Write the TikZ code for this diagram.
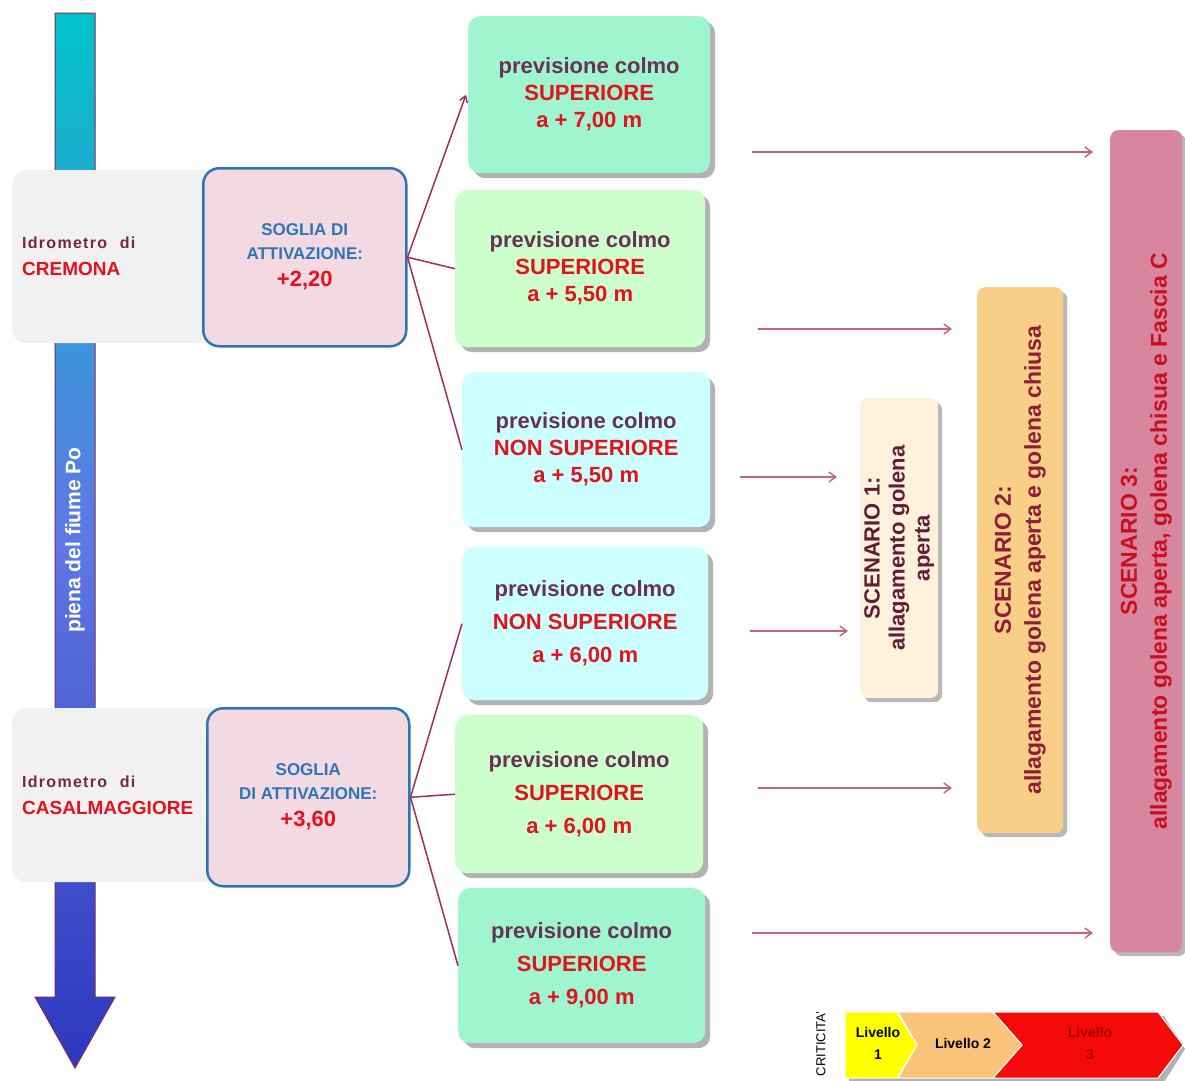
\documentclass[tikz,border=0pt]{standalone}
\usepackage{fontspec}
\setmainfont{Liberation Sans}
\newfontfamily\spacedfont[LetterSpace=8]{Liberation Sans}
\usetikzlibrary{shadows,arrows.meta,calc}
\definecolor{mint}{RGB}{158,245,208}
\definecolor{lgreen}{RGB}{204,255,204}
\definecolor{lcyan}{RGB}{204,255,255}
\definecolor{pinkbox}{RGB}{242,217,226}
\definecolor{bluebd}{RGB}{46,117,182}
\definecolor{greybox}{RGB}{241,241,241}
\definecolor{txtpurple}{RGB}{105,50,85}
\definecolor{txtred}{RGB}{228,18,28}
\definecolor{idrocol}{RGB}{115,40,75}
\definecolor{linecol}{RGB}{160,45,90}
\definecolor{arrowcol}{RGB}{200,95,135}
\definecolor{scA}{RGB}{253,241,220}
\definecolor{scB}{RGB}{249,207,136}
\definecolor{scC}{RGB}{216,134,159}
\definecolor{scAtxt}{RGB}{95,30,50}
\definecolor{scBtxt}{RGB}{140,30,55}
\definecolor{scCtxt}{RGB}{200,15,30}
\definecolor{riverTop}{RGB}{0,195,200}
\definecolor{riverMid}{RGB}{95,120,228}
\definecolor{riverBot}{RGB}{45,55,190}
\definecolor{barEdge}{RGB}{120,45,95}
\definecolor{lvA}{RGB}{255,255,0}
\definecolor{lvB}{RGB}{249,196,122}
\definecolor{lvC}{RGB}{245,10,10}
\definecolor{lvCtxt}{RGB}{165,0,0}
\tikzset{
  shbox/.style={rounded corners=12pt, inner sep=0pt, align=center, anchor=north west,
    drop shadow={shadow xshift=5pt, shadow yshift=-5pt, opacity=0.55, fill=black!55}},
  prevbox/.style={shbox, text=txtred, font=\fontsize{22}{27}\selectfont\bfseries},
  prevboxw/.style={shbox, text=txtred, font=\fontsize{22}{33}\selectfont\bfseries},
  greyb/.style={rounded corners=14pt, fill=greybox, anchor=north west, inner ysep=0pt, inner xsep=10pt, text width=200pt, align=left, font=\fontsize{19}{27}\selectfont\bfseries},
  soglia/.style={rounded corners=16pt, fill=pinkbox, draw=bluebd, line width=2.5pt, anchor=north west, inner sep=0pt, align=center, font=\fontsize{17}{24}\selectfont\bfseries},
  scenbox/.style={rounded corners=8pt, anchor=north west, inner sep=0pt,
    drop shadow={shadow xshift=4pt, shadow yshift=-4pt, opacity=0.5, fill=black!55}},
  scentxt/.style={rotate=90, align=center, font=\fontsize{23}{30}\selectfont\bfseries},
  conn/.style={draw=linecol, line width=1.5pt},
  rarrow/.style={draw=arrowcol, line width=1.4pt, -{Straight Barb[length=7pt,width=10pt]}},
  lvtxt/.style={align=center, font=\fontsize{14}{22}\selectfont\bfseries}
}
\begin{document}
\begin{tikzpicture}[x=1pt,y=-1pt]
\fill[white] (0,0) rectangle (1185,1080);
\useasboundingbox (0,0) rectangle (1185,1080);

% river arrow
\shade[top color=riverTop, bottom color=riverBot, middle color=riverMid, draw=barEdge, line width=1pt]
  (55,13) -- (95,13) -- (95,997) -- (115,997) -- (75,1068) -- (35,997) -- (55,997) -- cycle;
\node[rotate=90, text=white, font=\fontsize{21}{25}\selectfont\bfseries] (river) at (75,540) {piena del fiume Po};

% gauges
\node[greyb, minimum width=220pt, minimum height=173pt] (g1) at (12,170)
  {{\color{idrocol}\spacedfont\fontsize{16}{27}\selectfont\bfseries Idrometro\ \ di}\\{\color{txtred}CREMONA}};
\node[greyb, minimum width=220pt, minimum height=174pt] (g2) at (12,708)
  {{\color{idrocol}\spacedfont\fontsize{16}{27}\selectfont\bfseries Idrometro\ \ di}\\{\color{txtred}CASALMAGGIORE}};

\node[soglia, minimum width=203pt, minimum height=178pt] (p1) at (202,167)
  {{\color{bluebd}SOGLIA DI}\\{\color{bluebd}ATTIVAZIONE:}\\[3pt]{\color{txtred}\fontsize{22}{24}\selectfont +2,20}};
\node[soglia, minimum width=202pt, minimum height=178pt] (p2) at (206,707)
  {{\color{bluebd}SOGLIA}\\{\color{bluebd}DI ATTIVAZIONE:}\\[3pt]{\color{txtred}\fontsize{22}{24}\selectfont +3,60}};

% forecast boxes
\node[prevbox, fill=mint, minimum width=242pt, minimum height=157pt] (b1) at (468,16)
  {\textcolor{txtpurple}{previsione colmo}\\SUPERIORE\\a + 7,00 m};
\node[prevbox, fill=lgreen, minimum width=250pt, minimum height=157pt] (b2) at (455,190)
  {\textcolor{txtpurple}{previsione colmo}\\SUPERIORE\\a + 5,50 m};
\node[prevbox, fill=lcyan, minimum width=248pt, minimum height=155pt] (b3) at (462,372)
  {\textcolor{txtpurple}{previsione colmo}\\NON SUPERIORE\\a + 5,50 m};
\node[prevboxw, fill=lcyan, minimum width=246pt, minimum height=153pt] (b4) at (462,547)
  {\textcolor{txtpurple}{previsione colmo}\\NON SUPERIORE\\a + 6,00 m};
\node[prevboxw, fill=lgreen, minimum width=248pt, minimum height=158pt] (b5) at (455,715)
  {\textcolor{txtpurple}{previsione colmo}\\SUPERIORE\\a + 6,00 m};
\node[prevboxw, fill=mint, minimum width=247pt, minimum height=155pt] (b6) at (458,888)
  {\textcolor{txtpurple}{previsione colmo}\\SUPERIORE\\a + 9,00 m};

% connectors
\draw[conn, -{Straight Barb[length=6pt,width=8pt]}] (p1.east) -- ($(b1.west)+(-2,0)$);
\draw[conn] (p1.east) -- (b2.west);
\draw[conn] (p1.east) -- (b3.west);
\draw[conn] (p2.east) -- (b4.west);
\draw[conn] (p2.east) -- (b5.west);
\draw[conn] (p2.east) -- (b6.west);

% scenarios
\node[scenbox, fill=scA, minimum width=78pt, minimum height=300pt] (s1) at (860,398) {};
\node[scenbox, fill=scB, minimum width=86pt, minimum height=546pt] (s2) at (977,287) {};
\node[scenbox, fill=scC, minimum width=72pt, minimum height=822pt] (s3) at (1110,130) {};
\node[scentxt, text=scAtxt, font=\fontsize{22}{25}\selectfont\bfseries] (s1t) at (s1.center) {SCENARIO 1:\\allagamento golena\\aperta};
\node[scentxt, text=scBtxt] (s2t) at (s2.center) {SCENARIO 2:\\allagamento golena aperta e golena chiusa};
\node[scentxt, text=scCtxt] (s3t) at (s3.center) {SCENARIO 3:\\allagamento golena aperta, golena chisua e Fascia C};

% arrows to scenarios
\coordinate (a1) at (752,152);
\coordinate (a2) at (758,329);
\coordinate (a3) at (740,477);
\coordinate (a4) at (750,631);
\coordinate (a5) at (758,788);
\coordinate (a6) at (752,933);
\draw[rarrow, shorten >=17pt] (a1) -- (a1 -| s3.west);
\draw[rarrow, shorten >=25pt] (a2) -- (a2 -| s2.west);
\draw[rarrow, shorten >=23pt] (a3) -- (a3 -| s1.west);
\draw[rarrow, shorten >=12pt] (a4) -- (a4 -| s1.west);
\draw[rarrow, shorten >=25pt] (a5) -- (a5 -| s2.west);
\draw[rarrow, shorten >=17pt] (a6) -- (a6 -| s3.west);

% legend
\node[rotate=90, font=\fontsize{13}{15}\selectfont] (crit) at (821,1044) {CRITICITA'};
\fill[black!30] (849,1016) -- (1164,1016) -- (1185,1049) -- (1164,1082) -- (849,1082) -- cycle;
\fill[lvC, draw=white, line width=1pt] (993,1012) -- (1158,1012) -- (1183,1045) -- (1158,1078) -- (993,1078) -- (1022,1045) -- cycle;
\fill[lvB, draw=white, line width=1pt] (898,1012) -- (993,1012) -- (1022,1045) -- (993,1078) -- (898,1078) -- (917,1045) -- cycle;
\fill[lvA, draw=white, line width=1pt] (845,1012) -- (897,1012) -- (917,1045) -- (897,1078) -- (845,1078) -- cycle;
\node[lvtxt] (l1) at (878,1043) {Livello\\1};
\node[lvtxt] (l2) at (963,1043) {Livello 2};
\node[lvtxt, text=lvCtxt] (l3) at (1090,1043) {Livello\\3};
\end{tikzpicture}
\end{document}
